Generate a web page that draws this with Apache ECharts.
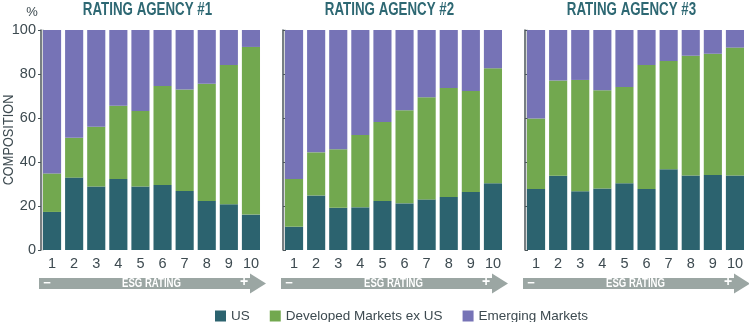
<!DOCTYPE html>
<html>
<head>
<meta charset="utf-8">
<script src="https://cdn.jsdelivr.net/npm/echarts@6/dist/echarts.min.js"></script>
<style>
  html, body { margin: 0; padding: 0; background: #fff; }
  #chart { width: 749px; height: 322px; }
</style>
</head>
<body>
<div id="chart"></div>
<script>
// ESG rating buckets (1 = worst, 10 = best)
const categories = ['1', '2', '3', '4', '5', '6', '7', '8', '9', '10'];
const yTicks = [0, 20, 40, 60, 80, 100];
const panelTitles = ['RATING AGENCY #1', 'RATING AGENCY #2', 'RATING AGENCY #3'];
const seriesNames = ['US', 'Developed Markets ex US', 'Emerging Markets'];

// Composition (%) per rating bucket, agency #1
const us1 = [17.3, 32.9, 28.9, 32.3, 28.9, 29.5, 26.8, 22.3, 20.8, 16.1];
const dm1 = [17.5, 18.1, 27.1, 33.3, 34.3, 45.0, 46.1, 53.3, 63.3, 76.2];
const em1 = [65.2, 49.0, 44.0, 34.4, 36.8, 25.5, 27.1, 24.4, 15.9, 7.7];

// Agency #2
const us2 = [10.6, 24.8, 19.2, 19.4, 22.3, 21.2, 23.0, 24.1, 26.4, 30.3];
const dm2 = [21.7, 19.6, 26.6, 32.9, 35.9, 42.3, 46.4, 49.5, 45.9, 52.3];
const em2 = [67.7, 55.6, 54.2, 47.7, 41.8, 36.5, 30.6, 26.4, 27.7, 17.4];

// Agency #3
const us3 = [27.7, 33.8, 26.7, 27.9, 30.3, 27.7, 36.7, 33.9, 34.1, 33.9];
const dm3 = [32.1, 43.3, 50.6, 44.7, 43.8, 56.4, 49.2, 54.4, 55.1, 58.1];
const em3 = [40.2, 22.9, 22.7, 27.4, 25.9, 15.9, 14.1, 11.7, 10.8, 8.0];

const panels = [[us1, dm1, em1], [us2, dm2, em2], [us3, dm3, em3]];
const colors = ['#2c636f', '#72a84f', '#7673b6'];

const FONT = "'Liberation Sans', Arial, sans-serif";
const TEXT = '#3d4a50';
const TITLE = '#2e6873';
const ARROW = '#9ba6a3';

const gridLeft = [41, 283, 525];
const gridW = 221;
const gridTop = 30;
const gridH = 220;

const grids = [], xAxes = [], yAxes = [], series = [], graphics = [];

gridLeft.forEach((left, i) => {
  grids.push({ left: left, top: gridTop, width: gridW, height: gridH, containLabel: false });
  xAxes.push({
    type: 'category', gridIndex: i, data: categories,
    axisLine: { show: false }, axisTick: { show: false },
    axisLabel: { interval: 0, color: TEXT, fontFamily: FONT, fontSize: 14.5, margin: 6 }
  });
  yAxes.push({
    type: 'value', gridIndex: i, min: yTicks[0], max: yTicks[yTicks.length - 1], interval: 20,
    splitLine: { show: false },
    axisLine: { show: true, lineStyle: { color: '#4a5559', width: 1.5, shadowColor: '#c4c9c9', shadowOffsetX: 2 } },
    axisTick: { show: true, inside: i > 0, length: 3, lineStyle: { color: '#4a5559' } },
    axisLabel: { show: i === 0, color: TEXT, fontFamily: FONT, fontSize: 14.5, margin: 5 }
  });
  panels[i].forEach((vals, s) => {
    series.push({
      name: seriesNames[s], type: 'bar', stack: 'agency' + i,
      xAxisIndex: i, yAxisIndex: i, data: vals,
      barCategoryGap: '18%',
      itemStyle: { color: colors[s] },
      emphasis: { disabled: true }
    });
  });

  // Panel heading, horizontally condensed
  graphics.push({
    type: 'text', silent: true, x: left + gridW / 2 - 4, y: 10, scaleX: 0.74,
    style: { text: panelTitles[i], fill: TITLE, font: 'bold 18px ' + FONT, textAlign: 'center', textVerticalAlign: 'middle' }
  });

  // ESG rating arrow under each panel
  const x0 = left - 2, x1 = left + gridW + 4, headLen = 16;
  const yMid = 283.5;
  graphics.push({
    type: 'polygon', silent: true,
    shape: { points: [
      [x0, yMid - 5.5], [x1 - headLen, yMid - 5.5], [x1 - headLen, yMid - 10],
      [x1, yMid], [x1 - headLen, yMid + 10], [x1 - headLen, yMid + 5.5], [x0, yMid + 5.5]
    ] },
    style: { fill: ARROW }
  });
  graphics.push({
    type: 'text', silent: true, x: left + gridW / 2, y: yMid, scaleX: 0.8,
    style: { text: 'ESG RATING', fill: '#fff', font: 'bold 12px ' + FONT, textAlign: 'center', textVerticalAlign: 'middle' }
  });
  graphics.push({
    type: 'text', silent: true, x: x0 + 8, y: yMid,
    style: { text: '\u2212', fill: '#fff', font: 'bold 13px ' + FONT, textAlign: 'center', textVerticalAlign: 'middle' }
  });
  graphics.push({
    type: 'text', silent: true, x: x1 - headLen - 6, y: yMid - 1,
    style: { text: '+', fill: '#fff', font: 'bold 14px ' + FONT, textAlign: 'center', textVerticalAlign: 'middle' }
  });
});

// Axis captions
graphics.push({
  type: 'text', silent: true, x: 9, y: 140, rotation: Math.PI / 2, scaleX: 0.85,
  style: { text: 'COMPOSITION', fill: TEXT, font: '15px ' + FONT, textAlign: 'center', textVerticalAlign: 'middle' }
});
graphics.push({
  type: 'text', silent: true, x: 32, y: 12,
  style: { text: '%', fill: TEXT, font: '13px ' + FONT, textAlign: 'center', textVerticalAlign: 'middle' }
});

const chart = echarts.init(document.getElementById('chart'), null, { renderer: 'canvas' });
chart.setOption({
  animation: false,
  grid: grids,
  xAxis: xAxes,
  yAxis: yAxes,
  series: series,
  graphic: graphics,
  legend: {
    data: seriesNames, left: 210, top: 304,
    itemWidth: 11, itemHeight: 11, itemGap: 20,
    icon: 'rect',
    textStyle: { color: TEXT, fontFamily: FONT, fontSize: 13.5 },
    selectedMode: false
  }
});
</script>
</body>
</html>
